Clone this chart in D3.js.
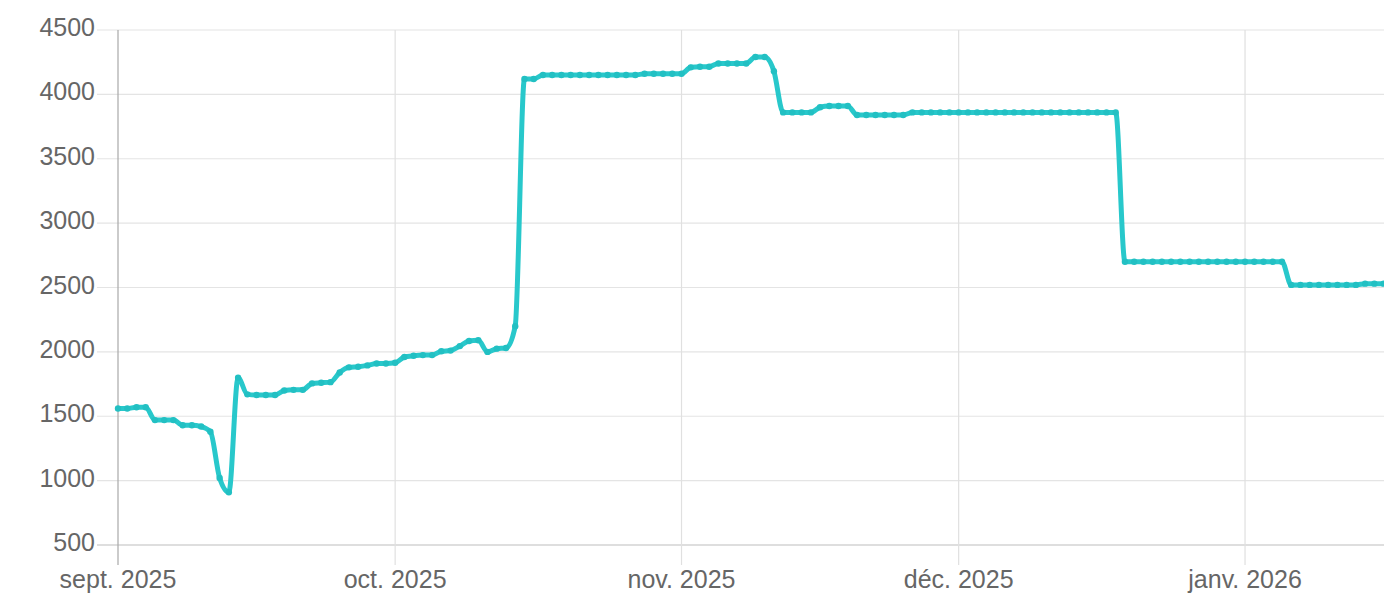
<!DOCTYPE html>
<html>
<head>
<meta charset="utf-8">
<script src="https://cdn.jsdelivr.net/npm/d3@7"></script>
<style>
  html, body { margin: 0; padding: 0; background: #fff; }
  svg { display: block; font-family: "Liberation Sans", Arial, sans-serif; }
</style>
</head>
<body>
<svg id="chart"></svg>
<script>
// daily values starting 1 Sep 2025
var startDate = new Date(Date.UTC(2025, 8, 1));
var endDate = new Date(Date.UTC(2026, 0, 16));
var values = [
  1560, 1560, 1570, 1570, 1470, 1470, 1470, 1430, 1430, 1420,
  1380, 1020, 910, 1800, 1670, 1665, 1665, 1665, 1700, 1705,
  1705, 1755, 1760, 1765, 1840, 1880, 1885, 1895, 1910, 1910,
  1915, 1960, 1970, 1975, 1975, 2005, 2010, 2045, 2085, 2090,
  2000, 2025, 2030, 2200, 4120, 4120, 4150, 4150, 4150, 4150,
  4150, 4150, 4150, 4150, 4150, 4150, 4150, 4160, 4160, 4160,
  4160, 4160, 4210, 4215, 4215, 4240, 4240, 4240, 4240, 4290,
  4290, 4180, 3860, 3860, 3860, 3860, 3900, 3910, 3910, 3910,
  3840, 3840, 3840, 3840, 3840, 3840, 3860, 3860, 3860, 3860,
  3860, 3860, 3860, 3860, 3860, 3860, 3860, 3860, 3860, 3860,
  3860, 3860, 3860, 3860, 3860, 3860, 3860, 3860, 3860, 2700,
  2700, 2700, 2700, 2700, 2700, 2700, 2700, 2700, 2700, 2700,
  2700, 2700, 2700, 2700, 2700, 2700, 2700, 2520, 2520, 2520,
  2520, 2520, 2520, 2520, 2520, 2530, 2530, 2530
];
var monthTicks = [
  new Date(Date.UTC(2025, 8, 1)),
  new Date(Date.UTC(2025, 9, 1)),
  new Date(Date.UTC(2025, 10, 1)),
  new Date(Date.UTC(2025, 11, 1)),
  new Date(Date.UTC(2026, 0, 1))
];
var monthLabels = ["sept. 2025", "oct. 2025", "nov. 2025", "déc. 2025", "janv. 2026"];
var yTicks = [500, 1000, 1500, 2000, 2500, 3000, 3500, 4000, 4500];

var width = 1384, height = 598;
var plotLeft = 118, plotTop = 30, plotBottom = 545, plotRight = 1383.6;
var lineColor = "#28c8cb";

var data = values.map(function(v, i) {
  return { date: d3.utcDay.offset(startDate, i), value: v };
});

var svg = d3.select("#chart").attr("width", width).attr("height", height);

var x = d3.scaleUtc().domain([startDate, endDate]).range([plotLeft, plotRight]);
var y = d3.scaleLinear().domain([500, 4500]).range([plotBottom, plotTop]);

// horizontal grid
svg.append("g").selectAll("line")
  .data(yTicks)
  .enter().append("line")
  .attr("x1", 97).attr("x2", width)
  .attr("y1", function(d) { return y(d); })
  .attr("y2", function(d) { return y(d); })
  .attr("stroke", function(d) { return d === 500 ? "#bdbdbd" : "#e4e4e4"; })
  .attr("stroke-width", 1.2);

// vertical grid
svg.append("g").selectAll("line")
  .data(monthTicks)
  .enter().append("line")
  .attr("x1", function(d) { return x(d); })
  .attr("x2", function(d) { return x(d); })
  .attr("y1", plotTop).attr("y2", 565)
  .attr("stroke", function(d, i) { return i === 0 ? "#a8a8a8" : "#e0e0e0"; })
  .attr("stroke-width", 1.2);

// y labels
svg.append("g").selectAll("text")
  .data(yTicks)
  .enter().append("text")
  .attr("x", 95)
  .attr("y", function(d) { return y(d) + 6; })
  .attr("text-anchor", "end")
  .attr("font-size", 25)
  .attr("fill", "#666")
  .text(function(d) { return d; });

// x labels
svg.append("g").selectAll("text")
  .data(monthTicks)
  .enter().append("text")
  .attr("x", function(d) { return x(d); })
  .attr("y", 588)
  .attr("text-anchor", "middle")
  .attr("font-size", 25)
  .attr("fill", "#666")
  .text(function(d, i) { return monthLabels[i]; });

var line = d3.line()
  .x(function(d) { return x(d.date); })
  .y(function(d) { return y(d.value); })
  .curve(d3.curveMonotoneX);

svg.append("path")
  .datum(data)
  .attr("fill", "none")
  .attr("stroke", lineColor)
  .attr("stroke-width", 5)
  .attr("stroke-linejoin", "round")
  .attr("d", line);

svg.append("g").selectAll("circle")
  .data(data)
  .enter().append("circle")
  .attr("cx", function(d) { return x(d.date); })
  .attr("cy", function(d) { return y(d.value); })
  .attr("r", 3.2)
  .attr("fill", "#22c0c3");
</script>
</body>
</html>
